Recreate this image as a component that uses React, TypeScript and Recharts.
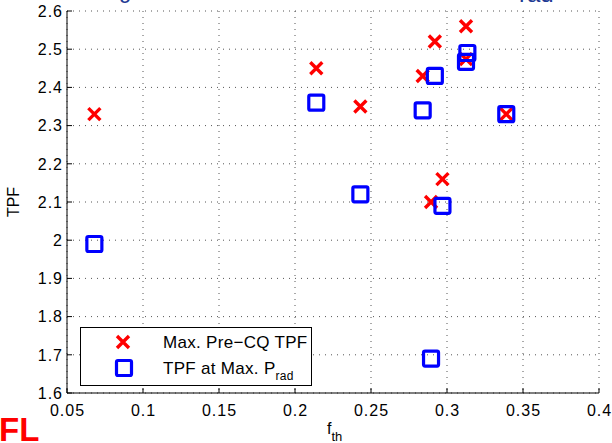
import React from "react";
import {
  ScatterChart,
  Scatter,
  XAxis,
  YAxis,
  CartesianGrid,
  Legend,
} from "recharts";

// Threshold fraction and TPF at the maximum pre-CQ TPF
const preCqFth = [0.068, 0.214, 0.243, 0.284, 0.292, 0.3125, 0.3125, 0.339, 0.297, 0.2895];
const preCqTpf = [2.33, 2.45, 2.35, 2.43, 2.52, 2.56, 2.474, 2.33, 2.16, 2.1];

// Threshold fraction and TPF at the maximum radiated power
const pradFth = [0.068, 0.214, 0.243, 0.284, 0.292, 0.3134, 0.3125, 0.339, 0.297, 0.2895];
const pradTpf = [1.99, 2.36, 2.12, 2.34, 2.43, 2.49, 2.467, 2.33, 2.09, 1.69];

const xTicks = [0.05, 0.1, 0.15, 0.2, 0.25, 0.3, 0.35, 0.4];
const yTicks = [1.6, 1.7, 1.8, 1.9, 2, 2.1, 2.2, 2.3, 2.4, 2.5, 2.6];

const seriesNames = ["Max. Pre\u2212CQ TPF", "TPF at Max. P"];

const preCqData = preCqFth.map((x, i) => ({ x, y: preCqTpf[i] }));
const pradData = pradFth.map((x, i) => ({ x, y: pradTpf[i] }));

const FONT = "'Liberation Sans', Arial, Helvetica, sans-serif";
const RED = "#ff0000";
const BLUE = "#0000ff";

const CrossMark = ({ cx, cy }: any) => (
  <path
    d={`M${cx - 6},${cy - 6}L${cx + 6},${cy + 6}M${cx - 6},${cy + 6}L${cx + 6},${cy - 6}`}
    stroke={RED}
    strokeWidth={3.4}
    fill="none"
  />
);

const SquareMark = ({ cx, cy }: any) => (
  <rect
    x={cx - 7.5}
    y={cy - 7.5}
    width={15}
    height={15}
    rx={1.5}
    stroke={BLUE}
    strokeWidth={3.2}
    fill="none"
  />
);

const tickText = {
  fontFamily: FONT,
  fontSize: 16,
  letterSpacing: 1,
  fill: "#000",
};

const BottomTick = ({ x, y, payload }: any) => (
  <g>
    <line x1={x} y1={y} x2={x} y2={y - 5} stroke="#000" />
    <text x={x + 0.5} y={y + 23} textAnchor="middle" style={tickText}>
      {payload.value}
    </text>
  </g>
);

const LeftTick = ({ x, y, payload }: any) => (
  <g>
    <line x1={x} y1={y} x2={x + 5} y2={y} stroke="#000" />
    <text x={x - 4} y={y} dy="0.36em" textAnchor="end" style={tickText}>
      {payload.value}
    </text>
  </g>
);

const TopTick = ({ x, y }: any) => (
  <line x1={x} y1={y} x2={x} y2={y + 5} stroke="#000" />
);

const RightTick = ({ x, y }: any) => (
  <line x1={x} y1={y} x2={x - 5} y2={y} stroke="#000" />
);

const XLabel = ({ viewBox }: any) => {
  const cx = viewBox.x + viewBox.width / 2;
  return (
    <text x={cx - 6} y={viewBox.y + 41} style={{ fontFamily: FONT, fontSize: 16, fill: "#000" }}>
      f
      <tspan dy={7} fontSize={13}>
        th
      </tspan>
    </text>
  );
};

const YLabel = ({ viewBox }: any) => {
  const x = viewBox.x + 19;
  const y = viewBox.y + viewBox.height / 2;
  return (
    <text
      x={x}
      y={y}
      transform={`rotate(-90 ${x} ${y})`}
      textAnchor="middle"
      style={{ fontFamily: FONT, fontSize: 16, fill: "#000" }}
    >
      TPF
    </text>
  );
};

const LegendBox = () => (
  <svg width={232} height={59} style={{ display: "block" }}>
    <rect x={0.5} y={0.5} width={231} height={58} fill="#fff" stroke="#000" />
    <CrossMark cx={43} cy={15} />
    <SquareMark cx={44} cy={41} />
    <text x={83} y={21} style={{ fontFamily: FONT, fontSize: 17, letterSpacing: 0.3, fill: "#000" }}>
      {seriesNames[0]}
    </text>
    <text x={83} y={47} style={{ fontFamily: FONT, fontSize: 17, letterSpacing: 0.3, fill: "#000" }}>
      {seriesNames[1]}
      <tspan dy={6} fontSize={12}>
        rad
      </tspan>
    </text>
  </svg>
);

export default function App() {
  return (
    <div style={{ position: "absolute", left: 0, top: 0, width: 612, height: 443, background: "#fff", overflow: "hidden" }}>
      <ScatterChart
        width={612}
        height={443}
        margin={{ top: 11, right: 13, bottom: 0, left: 0 }}
      >
        <CartesianGrid stroke="#555" strokeDasharray="1 5" />
        <XAxis
          type="number"
          dataKey="x"
          domain={[0.05, 0.4]}
          ticks={xTicks}
          interval={0}
          height={50}
          tickSize={0}
          tickMargin={0}
          tickLine={false}
          tick={<BottomTick />}
          axisLine={{ stroke: "#000" }}
          allowDataOverflow
          label={<XLabel />}
        />
        <XAxis
          xAxisId="top"
          orientation="top"
          type="number"
          domain={[0.05, 0.4]}
          ticks={xTicks}
          interval={0}
          height={0}
          tickSize={0}
          tickMargin={0}
          tickLine={false}
          tick={<TopTick />}
          axisLine={{ stroke: "#000" }}
          allowDataOverflow
        />
        <YAxis
          type="number"
          dataKey="y"
          domain={[1.6, 2.6]}
          ticks={yTicks}
          interval={0}
          width={67}
          tickSize={0}
          tickMargin={0}
          tickLine={false}
          tick={<LeftTick />}
          axisLine={{ stroke: "#000" }}
          allowDataOverflow
          label={<YLabel />}
        />
        <YAxis
          yAxisId="right"
          orientation="right"
          type="number"
          domain={[1.6, 2.6]}
          ticks={yTicks}
          interval={0}
          width={0}
          tickSize={0}
          tickMargin={0}
          tickLine={false}
          tick={<RightTick />}
          axisLine={{ stroke: "#000" }}
          allowDataOverflow
        />
        <Legend
          layout="horizontal"
          verticalAlign="middle"
          align="center"
          wrapperStyle={{ left: 80, top: 327, width: 232, height: 59 }}
          content={() => <LegendBox />}
        />
        <Scatter
          name={seriesNames[0]}
          data={preCqData}
          shape={<CrossMark />}
          isAnimationActive={false}
        />
        <Scatter
          name={seriesNames[1]}
          data={pradData}
          shape={<SquareMark />}
          isAnimationActive={false}
        />
      </ScatterChart>
      <svg
        width={612}
        height={443}
        style={{ position: "absolute", left: 0, top: 0, pointerEvents: "none" }}
      >
        <text x={119} y={-2} style={{ fontFamily: FONT, fontSize: 22, fill: "#1f3a93" }}>
          g
        </text>
        <text x={519} y={2} style={{ fontFamily: FONT, fontSize: 24, fill: "#1f3a93" }}>
          rad
        </text>
        <text x={-1} y={441} style={{ fontFamily: FONT, fontSize: 33, fontWeight: "bold", fill: RED }}>
          FL
        </text>
      </svg>
    </div>
  );
}
